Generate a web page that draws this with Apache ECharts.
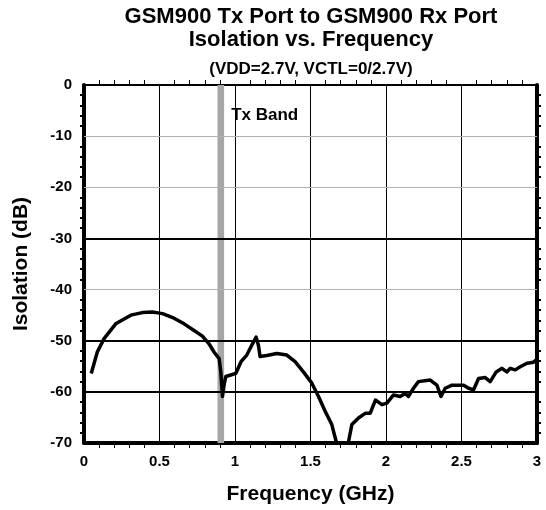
<!DOCTYPE html>
<html>
<head>
    <meta charset="utf-8">
    <title>Isolation vs. Frequency</title>
    <style type="text/css">
        body{ margin:0; background-color:#fff; }
        #main{ width:546px; height:510px; }
    </style>
    <script src="https://cdn.jsdelivr.net/npm/echarts@6/dist/echarts.min.js"></script>
</head>
<body>
    <div id="main"></div>
    <script type="text/javascript">
// 数据
var freqGHz = [0.048, 0.088, 0.133, 0.21, 0.31, 0.386, 0.453, 0.52, 0.596, 0.663, 0.729, 0.784, 0.828, 0.861, 0.895,
    0.906, 0.917, 0.928, 0.939, 0.972, 1.005, 1.04, 1.078, 1.111, 1.14, 1.155, 1.166, 1.21, 1.277, 1.343, 1.398,
    1.453, 1.509, 1.553, 1.597, 1.641, 1.67, 1.69, 1.73, 1.752, 1.774, 1.818, 1.862, 1.895, 1.93, 1.973, 2.006,
    2.05, 2.094, 2.127, 2.149, 2.182, 2.215, 2.293, 2.337, 2.364, 2.392, 2.437, 2.474, 2.514, 2.547, 2.58, 2.613,
    2.657, 2.69, 2.73, 2.768, 2.8, 2.823, 2.856, 2.889, 2.934, 2.977, 2.993];
var isolationDb = [-56.4, -52.2, -49.6, -46.7, -45.0, -44.5, -44.4, -44.7, -45.6, -46.7, -48.0, -49.1, -50.6, -52.2, -53.5,
    -56.1, -60.9, -58.6, -57.0, -56.7, -56.4, -54.1, -52.8, -50.9, -49.3, -50.9, -53.1, -52.9, -52.5, -52.8, -54.1,
    -56.1, -58.3, -60.9, -63.8, -66.4, -69.7, -74, -74, -69.7, -66.4, -65.1, -64.2, -64.2, -61.6, -62.5, -62.2,
    -60.6, -60.9, -60.3, -60.9, -59.3, -58.0, -57.7, -58.7, -60.9, -59.3, -58.7, -58.7, -58.7, -59.3, -59.6, -57.4,
    -57.2, -58.0, -56.1, -55.4, -56.1, -55.4, -55.7, -55.1, -54.4, -54.2, -53.8];

// Tx 频段
var txBandGHz = [0.884, 0.928];
var txBandLabel = 'Tx Band';

// 网格线（原图中粗黑线和细灰线）
var boldGridDb = [-30, -50, -60];
var thinGridDb = [-10, -20, -40];

var titleLines = ['GSM900 Tx Port to GSM900 Rx Port', 'Isolation vs. Frequency'];
var subTitle = '(VDD=2.7V, VCTL=0/2.7V)';

var fontFamily = '"Liberation Sans", Arial, sans-serif';

var myChart = echarts.init(document.getElementById('main'));

var seriesData = freqGHz.map(function (f, i) { return [f, isolationDb[i]]; });

var gridMarks = [];
boldGridDb.forEach(function (v) {
    gridMarks.push({ yAxis: v, lineStyle: { color: '#000', width: 2, type: 'solid' } });
});
thinGridDb.forEach(function (v) {
    gridMarks.push({ yAxis: v, lineStyle: { color: '#b0b0b0', width: 1, type: 'solid' } });
});

var option = {
    backgroundColor: '#fff',
    animation: false,
    title: [
        {
            text: titleLines[0], left: 311, top: 6, padding: 0, textAlign: 'center',
            textStyle: { fontFamily: fontFamily, fontSize: 22, fontWeight: 'bold', color: '#000' }
        },
        {
            text: titleLines[1], left: 311, top: 29, padding: 0, textAlign: 'center',
            textStyle: { fontFamily: fontFamily, fontSize: 22, fontWeight: 'bold', color: '#000' }
        },
        {
            text: subTitle, left: 311, top: 61, padding: 0, textAlign: 'center',
            textStyle: { fontFamily: fontFamily, fontSize: 17, fontWeight: 'bold', color: '#000' }
        }
    ],
    grid: {
        left: 84,
        right: 9,
        top: 85,
        bottom: 65
    },
    xAxis: [
        {
            type: 'value',
            min: 0,
            max: 3,
            interval: 0.5,
            position: 'bottom',
            name: 'Frequency (GHz)',
            nameLocation: 'middle',
            nameGap: 41,
            nameTextStyle: { fontFamily: fontFamily, fontSize: 21, fontWeight: 'bold', color: '#000' },
            axisLine: { onZero: false, lineStyle: { color: '#000', width: 4 } },
            axisTick: { show: false },
            minorTick: { show: true, splitNumber: 5, length: 5, lineStyle: { color: '#000', width: 1 } },
            axisLabel: {
                margin: 11,
                fontFamily: fontFamily, fontSize: 15, fontWeight: 'bold', color: '#000',
                formatter: function (v) { return String(v); }
            },
            splitLine: { show: true, lineStyle: { color: '#000', width: 1 } }
        },
        {
            type: 'value',
            min: 0,
            max: 3,
            interval: 0.5,
            position: 'top',
            axisLine: { onZero: false, lineStyle: { color: '#000', width: 2 } },
            axisTick: { show: false },
            minorTick: { show: true, splitNumber: 5, length: 5, lineStyle: { color: '#000', width: 1 } },
            axisLabel: { show: false },
            splitLine: { show: false }
        }
    ],
    yAxis: [
        {
            type: 'value',
            min: -70,
            max: 0,
            interval: 10,
            position: 'left',
            name: 'Isolation (dB)',
            nameLocation: 'middle',
            nameGap: 52,
            nameTextStyle: { fontFamily: fontFamily, fontSize: 21, fontWeight: 'bold', color: '#000' },
            axisLine: { onZero: false, lineStyle: { color: '#000', width: 4 } },
            axisTick: { show: false },
            minorTick: { show: true, splitNumber: 5, length: 4, lineStyle: { color: '#000', width: 2 } },
            axisLabel: {
                margin: 12,
                fontFamily: fontFamily, fontSize: 15, fontWeight: 'bold', color: '#000'
            },
            splitLine: { show: false }
        },
        {
            type: 'value',
            min: -70,
            max: 0,
            interval: 10,
            position: 'right',
            axisLine: { onZero: false, lineStyle: { color: '#000', width: 4 } },
            axisTick: { show: false },
            minorTick: { show: true, splitNumber: 5, length: 4, lineStyle: { color: '#000', width: 2 } },
            axisLabel: { show: false },
            splitLine: { show: false }
        }
    ],
    series: [
        {
            name: 'Isolation',
            type: 'line',
            xAxisIndex: 0,
            yAxisIndex: 0,
            data: seriesData,
            showSymbol: false,
            symbol: 'none',
            clip: true,
            z: 5,
            lineStyle: { color: '#000', width: 3.5, join: 'round' },
            markArea: {
                silent: true,
                itemStyle: { color: '#a6a6a6' },
                label: {
                    show: true,
                    position: ['100%', 30],
                    offset: [7, 0],
                    align: 'left',
                    verticalAlign: 'middle',
                    fontFamily: fontFamily, fontSize: 17, fontWeight: 'bold', color: '#000'
                },
                data: [[
                    { name: txBandLabel, xAxis: txBandGHz[0], yAxis: 0 },
                    { xAxis: txBandGHz[1], yAxis: -70 }
                ]]
            },
            markLine: {
                silent: true,
                symbol: 'none',
                label: { show: false },
                data: gridMarks
            }
        }
    ]
};

myChart.setOption(option);
    </script>
</body>
</html>
